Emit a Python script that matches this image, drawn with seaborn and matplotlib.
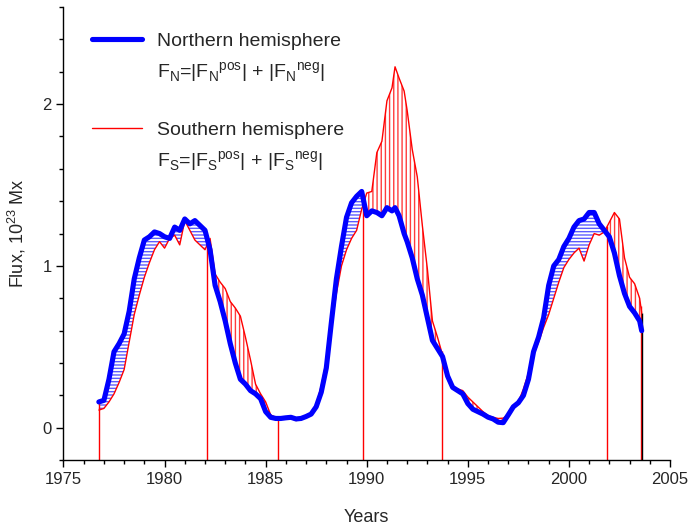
import numpy as np
import seaborn as sns
import matplotlib.pyplot as plt
from matplotlib.lines import Line2D
from matplotlib.ticker import MultipleLocator

# Data (common time grid for both hemispheres)
years = [1976.75, 1977.0, 1977.25, 1977.5, 1977.75, 1978.0, 1978.25, 1978.5, 1978.75,
         1979.0, 1979.25, 1979.5, 1979.75, 1980.0, 1980.25, 1980.5, 1980.75,
         1981.0, 1981.25, 1981.5, 1981.75, 1982.0, 1982.25, 1982.5, 1982.75,
         1983.0, 1983.25, 1983.5, 1983.75, 1984.0, 1984.25, 1984.5, 1984.75,
         1985.0, 1985.25, 1985.5, 1985.75, 1986.0, 1986.25, 1986.5, 1986.75,
         1987.0, 1987.25, 1987.5, 1987.75, 1988.0, 1988.25, 1988.5, 1988.75,
         1989.0, 1989.25, 1989.5, 1989.75, 1990.0, 1990.25, 1990.5, 1990.75,
         1991.0, 1991.25, 1991.4, 1991.6, 1991.85, 1992.0, 1992.25, 1992.5, 1992.75,
         1993.0, 1993.25, 1993.5, 1993.75, 1994.0, 1994.25, 1994.5, 1994.75,
         1995.0, 1995.25, 1995.5, 1995.75, 1996.0, 1996.25, 1996.5, 1996.75,
         1997.0, 1997.25, 1997.5, 1997.75, 1998.0, 1998.25, 1998.5, 1998.75,
         1999.0, 1999.25, 1999.5, 1999.75, 2000.0, 2000.25, 2000.5, 2000.75,
         2001.0, 2001.25, 2001.5, 2001.75, 2002.0, 2002.25, 2002.5, 2002.75,
         2003.0, 2003.25, 2003.5, 2003.6]

north = [0.16, 0.17, 0.30, 0.47, 0.52, 0.58, 0.72, 0.92, 1.05,
         1.16, 1.18, 1.21, 1.20, 1.18, 1.17, 1.24, 1.22,
         1.29, 1.26, 1.28, 1.25, 1.22, 1.10, 0.88, 0.78,
         0.66, 0.52, 0.40, 0.30, 0.27, 0.23, 0.21, 0.18,
         0.10, 0.065, 0.058, 0.058, 0.062, 0.065, 0.055, 0.058,
         0.07, 0.085, 0.13, 0.22, 0.37, 0.65, 0.92, 1.12,
         1.30, 1.39, 1.43, 1.46, 1.31, 1.34, 1.33, 1.31,
         1.36, 1.34, 1.36, 1.31, 1.20, 1.15, 1.05, 0.92, 0.82,
         0.68, 0.54, 0.49, 0.44, 0.32, 0.25, 0.23, 0.21,
         0.15, 0.115, 0.10, 0.085, 0.066, 0.055, 0.035, 0.032,
         0.08, 0.13, 0.155, 0.20, 0.30, 0.47, 0.56, 0.68,
         0.88, 1.00, 1.04, 1.12, 1.17, 1.24, 1.28, 1.29,
         1.33, 1.33, 1.26, 1.22, 1.18, 1.08, 0.94, 0.83,
         0.75, 0.71, 0.66, 0.60]

south = [0.11, 0.12, 0.16, 0.21, 0.28, 0.36, 0.53, 0.70, 0.82,
         0.93, 1.02, 1.10, 1.15, 1.11, 1.17, 1.19, 1.13,
         1.28, 1.22, 1.16, 1.13, 1.10, 1.17, 0.95, 0.90,
         0.86, 0.78, 0.74, 0.69, 0.56, 0.42, 0.27, 0.21,
         0.16, 0.08, 0.065, 0.06, 0.055, 0.06, 0.045, 0.05,
         0.07, 0.08, 0.14, 0.26, 0.41, 0.62, 0.83, 1.00,
         1.10, 1.17, 1.22, 1.35, 1.45, 1.46, 1.70, 1.77,
         2.02, 2.10, 2.23, 2.16, 2.08, 1.96, 1.72, 1.55, 1.25,
         0.98, 0.66, 0.56, 0.45, 0.30, 0.24, 0.24, 0.23,
         0.19, 0.16, 0.13, 0.10, 0.075, 0.065, 0.058, 0.06,
         0.08, 0.12, 0.16, 0.24, 0.34, 0.45, 0.53, 0.62,
         0.70, 0.80, 0.90, 0.99, 1.04, 1.08, 1.11, 1.03,
         1.13, 1.20, 1.19, 1.21, 1.27, 1.33, 1.29, 1.05,
         0.93, 0.89, 0.80, 0.71]

# crossing markers (vertical red lines from the bottom)
marker_years = [1976.75, 1982.1, 1985.6, 1989.8, 1993.7, 2001.9, 2003.55]

sns.set_style("ticks")
plt.rcParams['font.family'] = ['Liberation Sans', 'DejaVu Sans']
plt.rcParams['mathtext.fontset'] = 'custom'
plt.rcParams['mathtext.rm'] = 'Liberation Sans'
plt.rcParams['hatch.linewidth'] = 1.0

x = np.array(years)
n = np.array(north)
s = np.array(south)

fig = plt.figure(figsize=(6.9, 5.29), dpi=100)
ax = fig.add_axes([0.092, 0.13, 0.879, 0.857])

# hatched areas between the curves
ax.fill_between(x, s, n, where=n >= s, interpolate=True, facecolor='none',
                edgecolor=(0.2, 0.2, 1.0, 0.8), hatch='-----', linewidth=0, zorder=1)
ax.fill_between(x, n, s, where=s >= n, interpolate=True, facecolor='none',
                edgecolor=(1.0, 0.1, 0.1, 0.85), hatch='||||', linewidth=0, zorder=1)

# vertical markers from the bottom up to the curves
top = np.maximum(np.interp(marker_years, x, n), np.interp(marker_years, x, s))
ax.vlines(marker_years, -0.2, top, color='red', lw=1.0, zorder=2)
ax.vlines([x[-1]], -0.2, [s[-1]], color='black', lw=1.0, zorder=2)

sns.lineplot(x=x, y=s, color='red', lw=1.0, ax=ax, zorder=3)
sns.lineplot(x=x, y=n, color='blue', lw=3.7, ax=ax, zorder=4)

ax.set_xlim(1975, 2005)
ax.set_ylim(-0.2, 2.6)
ax.xaxis.set_major_locator(MultipleLocator(5))
ax.xaxis.set_minor_locator(MultipleLocator(1))
ax.yaxis.set_major_locator(MultipleLocator(1))
ax.yaxis.set_minor_locator(MultipleLocator(0.2))
ax.tick_params(which='major', length=5, width=1, labelsize=12, color='black')
ax.tick_params(which='minor', length=3, width=1, color='black')
sns.despine(ax=ax)
for sp in ['left', 'bottom']:
    ax.spines[sp].set_color('black')
    ax.spines[sp].set_linewidth(1.0)

ax.set_xlabel('Years', fontsize=13, labelpad=16)
ax.set_ylabel(r'Flux, 10$^{23}$ Mx', fontsize=13, labelpad=10)

blank = Line2D([], [], color='none')
handles = [Line2D([], [], color='blue', lw=3.7), blank, blank,
           Line2D([], [], color='red', lw=1.0), blank]
labels = ['Northern hemisphere',
          r'F$_\mathrm{N}$=|F$_\mathrm{N}$$^\mathrm{pos}$| + |F$_\mathrm{N}$$^\mathrm{neg}$|',
          '',
          'Southern hemisphere',
          r'F$_\mathrm{S}$=|F$_\mathrm{S}$$^\mathrm{pos}$| + |F$_\mathrm{S}$$^\mathrm{neg}$|']
ax.legend(handles, labels, loc='upper left', bbox_to_anchor=(0.018, 0.982),
          frameon=False, fontsize=14, handlelength=2.6, handletextpad=0.75,
          labelspacing=0.5)

fig.savefig('out.png', dpi=100)
